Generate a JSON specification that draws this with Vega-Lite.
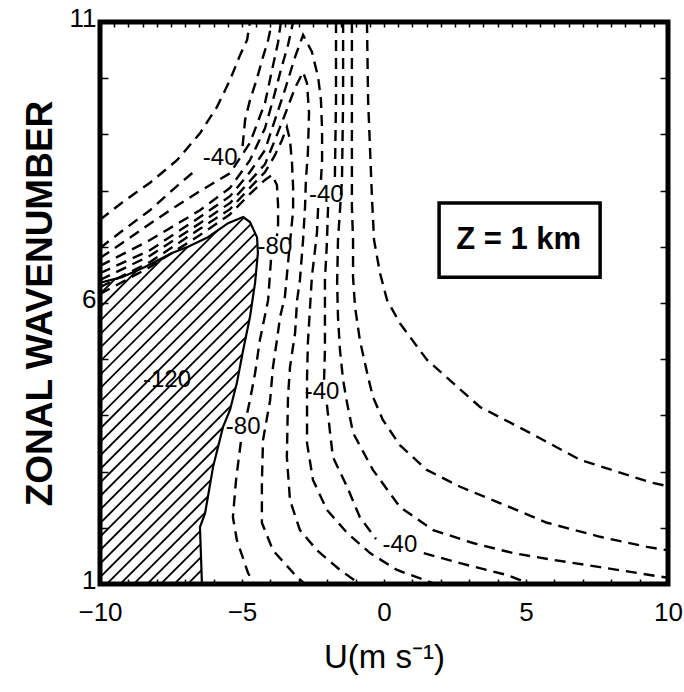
{
  "$schema": "https://vega.github.io/schema/vega-lite/v6.json",
  "width": 568,
  "height": 562,
  "autosize": {"type": "none"},
  "padding": {"left": 100, "top": 22, "right": 16, "bottom": 108},
  "background": "white",
  "config": {"view": {"stroke": null}, "font": "Liberation Sans"},
  "datasets": {
    "hatch": [
      {"u": -10, "k": -0.80, "u2": -4, "k2": 2.23},
      {"u": -10, "k": -0.56, "u2": -4, "k2": 2.47},
      {"u": -10, "k": -0.32, "u2": -4, "k2": 2.71},
      {"u": -10, "k": -0.08, "u2": -4, "k2": 2.95},
      {"u": -10, "k": 0.16, "u2": -4, "k2": 3.19},
      {"u": -10, "k": 0.40, "u2": -4, "k2": 3.43},
      {"u": -10, "k": 0.64, "u2": -4, "k2": 3.67},
      {"u": -10, "k": 0.88, "u2": -4, "k2": 3.91},
      {"u": -10, "k": 1.12, "u2": -4, "k2": 4.15},
      {"u": -10, "k": 1.36, "u2": -4, "k2": 4.39},
      {"u": -10, "k": 1.60, "u2": -4, "k2": 4.63},
      {"u": -10, "k": 1.84, "u2": -4, "k2": 4.87},
      {"u": -10, "k": 2.08, "u2": -4, "k2": 5.11},
      {"u": -10, "k": 2.32, "u2": -4, "k2": 5.35},
      {"u": -10, "k": 2.56, "u2": -4, "k2": 5.59},
      {"u": -10, "k": 2.80, "u2": -4, "k2": 5.83},
      {"u": -10, "k": 3.04, "u2": -4, "k2": 6.07},
      {"u": -10, "k": 3.28, "u2": -4, "k2": 6.31},
      {"u": -10, "k": 3.52, "u2": -4, "k2": 6.55},
      {"u": -10, "k": 3.76, "u2": -4, "k2": 6.79},
      {"u": -10, "k": 4.00, "u2": -4, "k2": 7.03},
      {"u": -10, "k": 4.24, "u2": -4, "k2": 7.27},
      {"u": -10, "k": 4.48, "u2": -4, "k2": 7.51},
      {"u": -10, "k": 4.72, "u2": -4, "k2": 7.75},
      {"u": -10, "k": 4.96, "u2": -4, "k2": 7.99},
      {"u": -10, "k": 5.20, "u2": -4, "k2": 8.23},
      {"u": -10, "k": 5.44, "u2": -4, "k2": 8.47},
      {"u": -10, "k": 5.68, "u2": -4, "k2": 8.71},
      {"u": -10, "k": 5.92, "u2": -4, "k2": 8.95},
      {"u": -10, "k": 6.16, "u2": -4, "k2": 9.19},
      {"u": -10, "k": 6.40, "u2": -4, "k2": 9.43}
    ],
    "mask": [
      {"u": -10, "k": 6.36}, {"u": -9.23, "k": 6.46}, {"u": -8.42, "k": 6.64}, {"u": -7.46, "k": 6.89},
      {"u": -6.90, "k": 7.00}, {"u": -6.20, "k": 7.17}, {"u": -5.49, "k": 7.42}, {"u": -4.96, "k": 7.53},
      {"u": -4.72, "k": 7.44}, {"u": -4.47, "k": 7.17}, {"u": -4.44, "k": 6.89}, {"u": -4.54, "k": 6.36},
      {"u": -4.72, "k": 5.75}, {"u": -4.96, "k": 5.16}, {"u": -5.18, "k": 4.58}, {"u": -5.42, "k": 4.10},
      {"u": -5.67, "k": 3.79}, {"u": -6.02, "k": 3.08}, {"u": -6.30, "k": 2.26}, {"u": -6.48, "k": 2.01},
      {"u": -6.44, "k": 1.43}, {"u": -6.41, "k": 1.0},
      {"u": 10, "k": 1}, {"u": 10, "k": 11}, {"u": -10, "k": 11}, {"u": -10, "k": 6.36}
    ],
    "edge": [
      {"u": -10, "k": 6.36}, {"u": -9.23, "k": 6.46}, {"u": -8.42, "k": 6.64}, {"u": -7.46, "k": 6.89},
      {"u": -6.90, "k": 7.00}, {"u": -6.20, "k": 7.17}, {"u": -5.49, "k": 7.42}, {"u": -4.96, "k": 7.53},
      {"u": -4.72, "k": 7.44}, {"u": -4.47, "k": 7.17}, {"u": -4.44, "k": 6.89}, {"u": -4.54, "k": 6.36},
      {"u": -4.72, "k": 5.75}, {"u": -4.96, "k": 5.16}, {"u": -5.18, "k": 4.58}, {"u": -5.42, "k": 4.10},
      {"u": -5.67, "k": 3.79}, {"u": -6.02, "k": 3.08}, {"u": -6.30, "k": 2.26}, {"u": -6.48, "k": 2.01},
      {"u": -6.44, "k": 1.43}, {"u": -6.41, "k": 1.0}
    ],
    "contours": [
      {"id": "F1", "u": -10, "k": 7.48}, {"id": "F1", "u": -9.19, "k": 7.80}, {"id": "F1", "u": -8.24, "k": 8.14},
      {"id": "F1", "u": -7.29, "k": 8.54}, {"id": "F1", "u": -6.48, "k": 9.02}, {"id": "F1", "u": -5.88, "k": 9.49},
      {"id": "F1", "u": -5.42, "k": 9.97}, {"id": "F1", "u": -5.07, "k": 10.41}, {"id": "F1", "u": -4.82, "k": 10.68},
      {"id": "F1", "u": -4.72, "k": 11},

      {"id": "F2a", "u": -10, "k": 6.98}, {"id": "F2a", "u": -9.12, "k": 7.32}, {"id": "F2a", "u": -8.24, "k": 7.65},
      {"id": "F2a", "u": -7.36, "k": 8.05}, {"id": "F2a", "u": -6.62, "k": 8.37},

      {"id": "F2b", "u": -4.98, "k": 8.79}, {"id": "F2b", "u": -4.89, "k": 9.26}, {"id": "F2b", "u": -4.72, "k": 9.61},
      {"id": "F2b", "u": -4.47, "k": 10.00}, {"id": "F2b", "u": -4.26, "k": 10.38}, {"id": "F2b", "u": -4.08, "k": 10.68},
      {"id": "F2b", "u": -3.94, "k": 11},

      {"id": "F3", "u": -10, "k": 6.80}, {"id": "F3", "u": -9.12, "k": 7.10}, {"id": "F3", "u": -8.24, "k": 7.41},
      {"id": "F3", "u": -7.36, "k": 7.71}, {"id": "F3", "u": -6.48, "k": 7.99}, {"id": "F3", "u": -5.42, "k": 8.31},
      {"id": "F3", "u": -4.72, "k": 8.85}, {"id": "F3", "u": -4.19, "k": 9.56}, {"id": "F3", "u": -3.94, "k": 10.15},
      {"id": "F3", "u": -3.73, "k": 10.64}, {"id": "F3", "u": -3.63, "k": 11},

      {"id": "F4", "u": -10, "k": 6.66}, {"id": "F4", "u": -8.24, "k": 7.12}, {"id": "F4", "u": -6.48, "k": 7.65},
      {"id": "F4", "u": -5.42, "k": 8.05}, {"id": "F4", "u": -4.72, "k": 8.54}, {"id": "F4", "u": -4.19, "k": 9.11},
      {"id": "F4", "u": -3.91, "k": 9.61}, {"id": "F4", "u": -3.63, "k": 10.15}, {"id": "F4", "u": -3.38, "k": 10.59},
      {"id": "F4", "u": -3.20, "k": 11},

      {"id": "d1", "u": -10, "k": 6.53}, {"id": "d1", "u": -8.24, "k": 6.94}, {"id": "d1", "u": -6.48, "k": 7.53},
      {"id": "d1", "u": -5.42, "k": 7.90}, {"id": "d1", "u": -4.72, "k": 8.33}, {"id": "d1", "u": -4.19, "k": 8.72},
      {"id": "d1", "u": -3.84, "k": 9.26}, {"id": "d1", "u": -3.49, "k": 9.79}, {"id": "d1", "u": -3.13, "k": 10.38},
      {"id": "d1", "u": -2.85, "k": 10.77}, {"id": "d1", "u": -2.54, "k": 10.47}, {"id": "d1", "u": -2.32, "k": 10.02},
      {"id": "d1", "u": -2.22, "k": 9.61}, {"id": "d1", "u": -2.18, "k": 9.08}, {"id": "d1", "u": -2.18, "k": 8.54},
      {"id": "d1", "u": -2.22, "k": 8.19},

      {"id": "d2", "u": -2.32, "k": 7.69}, {"id": "d2", "u": -2.36, "k": 7.25}, {"id": "d2", "u": -2.54, "k": 6.46},
      {"id": "d2", "u": -2.61, "k": 5.88}, {"id": "d2", "u": -2.68, "k": 5.29}, {"id": "d2", "u": -2.71, "k": 4.68},
      {"id": "d2", "u": -2.71, "k": 4.27}, {"id": "d2", "u": -2.71, "k": 3.51}, {"id": "d2", "u": -2.50, "k": 2.85},
      {"id": "d2", "u": -2.01, "k": 2.32}, {"id": "d2", "u": -1.30, "k": 1.91}, {"id": "d2", "u": -0.49, "k": 1.55},
      {"id": "d2", "u": 0.46, "k": 1.25}, {"id": "d2", "u": 1.80, "k": 1.0},

      {"id": "c", "u": -10, "k": 6.41}, {"id": "c", "u": -8.24, "k": 6.84}, {"id": "c", "u": -6.48, "k": 7.42},
      {"id": "c", "u": -5.42, "k": 7.78}, {"id": "c", "u": -4.72, "k": 8.17}, {"id": "c", "u": -4.19, "k": 8.47},
      {"id": "c", "u": -3.84, "k": 8.90}, {"id": "c", "u": -3.49, "k": 9.35}, {"id": "c", "u": -3.13, "k": 9.83},
      {"id": "c", "u": -2.85, "k": 10.11}, {"id": "c", "u": -2.71, "k": 9.91}, {"id": "c", "u": -2.64, "k": 9.38},
      {"id": "c", "u": -2.68, "k": 8.67}, {"id": "c", "u": -2.75, "k": 8.19}, {"id": "c", "u": -2.78, "k": 7.71},
      {"id": "c", "u": -2.85, "k": 7.12}, {"id": "c", "u": -2.96, "k": 6.41}, {"id": "c", "u": -3.06, "k": 6.05},
      {"id": "c", "u": -3.13, "k": 5.47}, {"id": "c", "u": -3.31, "k": 4.86}, {"id": "c", "u": -3.38, "k": 4.33},
      {"id": "c", "u": -3.42, "k": 3.26}, {"id": "c", "u": -3.31, "k": 2.49}, {"id": "c", "u": -2.96, "k": 1.96},
      {"id": "c", "u": -2.36, "k": 1.60}, {"id": "c", "u": -1.55, "k": 1.25}, {"id": "c", "u": -0.85, "k": 1.0},

      {"id": "b", "u": -10, "k": 6.28}, {"id": "b", "u": -8.24, "k": 6.73}, {"id": "b", "u": -6.48, "k": 7.32},
      {"id": "b", "u": -5.42, "k": 7.67}, {"id": "b", "u": -4.72, "k": 8.05}, {"id": "b", "u": -4.19, "k": 8.33},
      {"id": "b", "u": -3.84, "k": 8.63}, {"id": "b", "u": -3.59, "k": 8.90}, {"id": "b", "u": -3.42, "k": 9.13},
      {"id": "b", "u": -3.31, "k": 8.90}, {"id": "b", "u": -3.24, "k": 8.49}, {"id": "b", "u": -3.20, "k": 8.06},
      {"id": "b", "u": -3.20, "k": 7.65}, {"id": "b", "u": -3.24, "k": 7.44}, {"id": "b", "u": -3.38, "k": 6.71},
      {"id": "b", "u": -3.49, "k": 6.11}, {"id": "b", "u": -3.66, "k": 5.75}, {"id": "b", "u": -3.77, "k": 5.34},
      {"id": "b", "u": -3.91, "k": 4.86}, {"id": "b", "u": -4.01, "k": 4.27}, {"id": "b", "u": -4.26, "k": 3.56},
      {"id": "b", "u": -4.30, "k": 2.80}, {"id": "b", "u": -4.30, "k": 2.09}, {"id": "b", "u": -3.91, "k": 1.60},
      {"id": "b", "u": -3.06, "k": 1.12}, {"id": "b", "u": -2.78, "k": 1.0},

      {"id": "a1", "u": -10, "k": 6.16}, {"id": "a1", "u": -8.24, "k": 6.64}, {"id": "a1", "u": -6.48, "k": 7.21},
      {"id": "a1", "u": -5.42, "k": 7.58}, {"id": "a1", "u": -4.72, "k": 7.94}, {"id": "a1", "u": -4.19, "k": 8.19},
      {"id": "a1", "u": -3.94, "k": 8.28}, {"id": "a1", "u": -3.77, "k": 8.10}, {"id": "a1", "u": -3.73, "k": 7.74},
      {"id": "a1", "u": -3.73, "k": 7.39}, {"id": "a1", "u": -3.77, "k": 7.19},

      {"id": "a2", "u": -3.98, "k": 6.77}, {"id": "a2", "u": -4.08, "k": 6.05}, {"id": "a2", "u": -4.37, "k": 5.34},
      {"id": "a2", "u": -4.54, "k": 4.75}, {"id": "a2", "u": -4.72, "k": 4.27}, {"id": "a2", "u": -4.82, "k": 4.04},

      {"id": "a3", "u": -5.04, "k": 3.53}, {"id": "a3", "u": -5.21, "k": 2.85}, {"id": "a3", "u": -5.32, "k": 2.19},
      {"id": "a3", "u": -5.18, "k": 1.78}, {"id": "a3", "u": -4.79, "k": 1.20}, {"id": "a3", "u": -4.58, "k": 1.0},

      {"id": "e1", "u": -1.69, "k": 11}, {"id": "e1", "u": -1.69, "k": 9.61}, {"id": "e1", "u": -1.73, "k": 8.22},

      {"id": "e2", "u": -1.97, "k": 7.71}, {"id": "e2", "u": -2.01, "k": 7.07}, {"id": "e2", "u": -2.08, "k": 6.41},
      {"id": "e2", "u": -2.08, "k": 5.88}, {"id": "e2", "u": -2.08, "k": 5.16}, {"id": "e2", "u": -2.11, "k": 4.63},

      {"id": "e3", "u": -2.01, "k": 4.19}, {"id": "e3", "u": -1.80, "k": 3.26}, {"id": "e3", "u": -1.30, "k": 2.73},
      {"id": "e3", "u": -0.85, "k": 2.19}, {"id": "e3", "u": -0.28, "k": 1.80},

      {"id": "e4", "u": 1.40, "k": 1.55}, {"id": "e4", "u": 2.68, "k": 1.37}, {"id": "e4", "u": 4.33, "k": 1.16},
      {"id": "e4", "u": 5.14, "k": 1.0},

      {"id": "f", "u": -1.44, "k": 11}, {"id": "f", "u": -1.44, "k": 9.61}, {"id": "f", "u": -1.48, "k": 8.19},
      {"id": "f", "u": -1.55, "k": 7.65}, {"id": "f", "u": -1.62, "k": 7.12}, {"id": "f", "u": -1.65, "k": 6.36},
      {"id": "f", "u": -1.62, "k": 5.75}, {"id": "f", "u": -1.55, "k": 5.16}, {"id": "f", "u": -1.44, "k": 4.63},
      {"id": "f", "u": -1.30, "k": 4.22}, {"id": "f", "u": -1.09, "k": 3.69}, {"id": "f", "u": -0.39, "k": 3.03},
      {"id": "f", "u": 0.56, "k": 2.37}, {"id": "f", "u": 1.73, "k": 1.96}, {"id": "f", "u": 3.13, "k": 1.73},
      {"id": "f", "u": 4.54, "k": 1.55}, {"id": "f", "u": 5.95, "k": 1.43}, {"id": "f", "u": 7.61, "k": 1.30},
      {"id": "f", "u": 10, "k": 1.11},

      {"id": "g", "u": -1.13, "k": 11}, {"id": "g", "u": -1.13, "k": 9.61}, {"id": "g", "u": -1.13, "k": 7.71},
      {"id": "g", "u": -1.09, "k": 7.12}, {"id": "g", "u": -1.09, "k": 6.46}, {"id": "g", "u": -1.02, "k": 5.93},
      {"id": "g", "u": -0.85, "k": 5.34}, {"id": "g", "u": -0.56, "k": 4.68}, {"id": "g", "u": -0.39, "k": 4.33},
      {"id": "g", "u": -0.04, "k": 3.92}, {"id": "g", "u": 0.56, "k": 3.47}, {"id": "g", "u": 1.51, "k": 3.03},
      {"id": "g", "u": 2.68, "k": 2.73}, {"id": "g", "u": 4.08, "k": 2.44}, {"id": "g", "u": 5.74, "k": 2.09},
      {"id": "g", "u": 7.61, "k": 1.84}, {"id": "g", "u": 9.26, "k": 1.66}, {"id": "g", "u": 10, "k": 1.60},

      {"id": "h", "u": -0.60, "k": 11}, {"id": "h", "u": -0.56, "k": 9.61}, {"id": "h", "u": -0.49, "k": 8.72},
      {"id": "h", "u": -0.42, "k": 7.83}, {"id": "h", "u": -0.35, "k": 7.12}, {"id": "h", "u": -0.14, "k": 6.53},
      {"id": "h", "u": 0.11, "k": 6.05}, {"id": "h", "u": 0.56, "k": 5.64}, {"id": "h", "u": 1.51, "k": 4.99},
      {"id": "h", "u": 3.38, "k": 4.15}, {"id": "h", "u": 5.14, "k": 3.69}, {"id": "h", "u": 6.90, "k": 3.21},
      {"id": "h", "u": 9.37, "k": 2.81}, {"id": "h", "u": 10, "k": 2.74}
    ],
    "labels": [
      {"u": -5.77, "k": 8.58, "t": "-40"},
      {"u": -2.03, "k": 7.92, "t": "-40"},
      {"u": -2.18, "k": 4.42, "t": "-40"},
      {"u": 0.56, "k": 1.69, "t": "-40"},
      {"u": -3.84, "k": 7.00, "t": "-80"},
      {"u": -4.96, "k": 3.79, "t": "-80"},
      {"u": -7.64, "k": 4.63, "t": "-120"}
    ],
    "box": [{"u": 1.94, "k": 6.46, "u2": 7.61, "k2": 7.78, "t": "Z = 1 km", "uc": 4.74, "kc": 7.12}],
    "frame": [{"u": -10, "k": 1, "u2": 10, "k2": 11}]
  },
  "layer": [
    {
      "data": {"name": "hatch"},
      "mark": {"type": "rule", "clip": true, "color": "black", "strokeWidth": 1.8},
      "encoding": {
        "x": {"field": "u", "type": "quantitative", "scale": {"domain": [-10, 10], "nice": false},
          "axis": {"orient": "bottom", "title": "U(m s⁻¹)",
            "values": [-10,-9.5,-9,-8.5,-8,-7.5,-7,-6.5,-6,-5.5,-5,-4.5,-4,-3.5,-3,-2.5,-2,-1.5,-1,-0.5,0,0.5,1,1.5,2,2.5,3,3.5,4,4.5,5,5.5,6,6.5,7,7.5,8,8.5,9,9.5,10],
            "format": "d", "labelExpr": "datum.value % 5 === 0 ? datum.label : ''",
            "labelOverlap": false, "labelFlush": false, "labelBound": false,
            "tickSize": -5, "tickColor": "black", "tickWidth": 1.5, "domain": false, "grid": false,
            "labelFontSize": 26, "labelColor": "black", "labelPadding": 20, "labelFont": "Liberation Sans",
            "titleFontSize": 33, "titleFontWeight": "normal", "titleColor": "black", "titlePadding": 16,
            "titleFont": "Liberation Sans", "zindex": 1}},
        "x2": {"field": "u2"},
        "y": {"field": "k", "type": "quantitative", "scale": {"domain": [1, 11], "nice": false},
          "axis": {"orient": "left", "title": "ZONAL WAVENUMBER",
            "values": [1,2,3,4,5,6,7,8,9,10,11], "format": "d",
            "labelExpr": "datum.value === 1 || datum.value === 6 || datum.value === 11 ? datum.label : ''",
            "labelOverlap": false, "labelFlush": false, "labelBound": false, "labelOffset": -4,
            "tickSize": -8, "tickColor": "black", "tickWidth": 1.5, "domain": false, "grid": false,
            "labelFontSize": 26, "labelColor": "black", "labelPadding": 12, "labelFont": "Liberation Sans",
            "titleFontSize": 37, "titleFontWeight": "bold", "titleColor": "black", "titlePadding": 10,
            "titleFont": "Liberation Sans", "zindex": 1}},
        "y2": {"field": "k2"}
      }
    },
    {
      "data": {"name": "mask"},
      "mark": {"type": "line", "fill": "white", "stroke": "white", "strokeWidth": 0.5},
      "encoding": {
        "x": {"field": "u", "type": "quantitative", "scale": {"domain": [-10, 10], "nice": false},
          "axis": {"orient": "top", "title": null, "labels": false,
            "values": [-10,-9.5,-9,-8.5,-8,-7.5,-7,-6.5,-6,-5.5,-5,-4.5,-4,-3.5,-3,-2.5,-2,-1.5,-1,-0.5,0,0.5,1,1.5,2,2.5,3,3.5,4,4.5,5,5.5,6,6.5,7,7.5,8,8.5,9,9.5,10],
            "tickSize": -5, "tickColor": "black", "tickWidth": 1.5, "domain": false, "grid": false, "zindex": 1}},
        "y": {"field": "k", "type": "quantitative", "scale": {"domain": [1, 11], "nice": false},
          "axis": {"orient": "right", "title": null, "labels": false,
            "values": [1,2,3,4,5,6,7,8,9,10,11],
            "tickSize": -8, "tickColor": "black", "tickWidth": 1.5, "domain": false, "grid": false, "zindex": 1}},
        "order": {"value": null}
      }
    },
    {
      "data": {"name": "edge"},
      "mark": {"type": "line", "color": "black", "strokeWidth": 2.2},
      "encoding": {
        "x": {"field": "u", "type": "quantitative", "scale": {"domain": [-10, 10], "nice": false}, "axis": null},
        "y": {"field": "k", "type": "quantitative", "scale": {"domain": [1, 11], "nice": false}, "axis": null},
        "order": {"value": null}
      }
    },
    {
      "data": {"name": "contours"},
      "mark": {"type": "line", "color": "black", "strokeWidth": 2.4, "strokeDash": [11, 7], "clip": true},
      "encoding": {
        "x": {"field": "u", "type": "quantitative", "scale": {"domain": [-10, 10], "nice": false}, "axis": null},
        "y": {"field": "k", "type": "quantitative", "scale": {"domain": [1, 11], "nice": false}, "axis": null},
        "detail": {"field": "id"},
        "order": {"value": null}
      }
    },
    {
      "data": {"name": "labels"},
      "mark": {"type": "text", "fontSize": 24, "font": "Liberation Sans", "color": "black", "align": "center", "baseline": "middle"},
      "encoding": {
        "x": {"field": "u", "type": "quantitative", "scale": {"domain": [-10, 10], "nice": false}, "axis": null},
        "y": {"field": "k", "type": "quantitative", "scale": {"domain": [1, 11], "nice": false}, "axis": null},
        "text": {"field": "t"}
      }
    },
    {
      "data": {"name": "box"},
      "mark": {"type": "rect", "fill": "white", "stroke": "black", "strokeWidth": 3.5},
      "encoding": {
        "x": {"field": "u", "type": "quantitative", "scale": {"domain": [-10, 10], "nice": false}, "axis": null},
        "x2": {"field": "u2"},
        "y": {"field": "k", "type": "quantitative", "scale": {"domain": [1, 11], "nice": false}, "axis": null},
        "y2": {"field": "k2"}
      }
    },
    {
      "data": {"name": "box"},
      "mark": {"type": "text", "fontSize": 31, "fontWeight": "bold", "font": "Liberation Sans", "color": "black", "align": "center", "baseline": "middle"},
      "encoding": {
        "x": {"field": "uc", "type": "quantitative", "scale": {"domain": [-10, 10], "nice": false}, "axis": null},
        "y": {"field": "kc", "type": "quantitative", "scale": {"domain": [1, 11], "nice": false}, "axis": null},
        "text": {"field": "t"}
      }
    },
    {
      "data": {"name": "frame"},
      "mark": {"type": "rect", "filled": false, "stroke": "black", "strokeWidth": 5},
      "encoding": {
        "x": {"field": "u", "type": "quantitative", "scale": {"domain": [-10, 10], "nice": false}, "axis": null},
        "x2": {"field": "u2"},
        "y": {"field": "k", "type": "quantitative", "scale": {"domain": [1, 11], "nice": false}, "axis": null},
        "y2": {"field": "k2"}
      }
    }
  ],
  "resolve": {"axis": {"x": "independent", "y": "independent"}}
}
